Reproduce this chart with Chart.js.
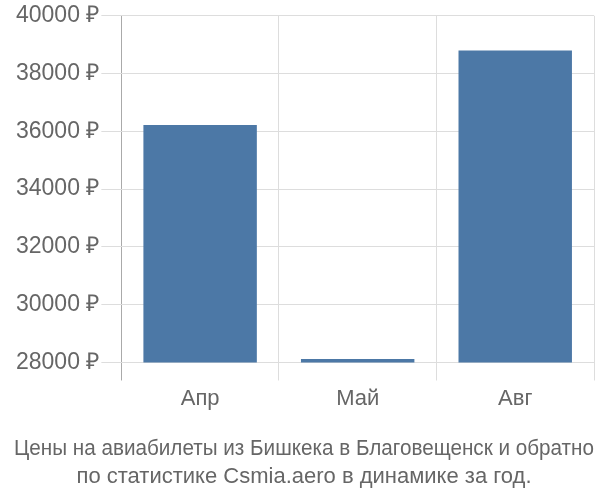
<!DOCTYPE html>
<html>
<head>
<meta charset="utf-8">
<script src="https://cdn.jsdelivr.net/npm/chart.js@4/dist/chart.umd.min.js"></script>
<style>
  html, body { margin: 0; padding: 0; background: #fff; }
  #wrap { width: 600px; height: 500px; }
</style>
</head>
<body>
<div id="wrap"><canvas id="graph" width="600" height="500"></canvas></div>
<script>
'use strict';

let months = ['Апр', 'Май', 'Авг'];
let prices = [36220, 28120, 38800];
let titleLines = [
  'Цены на авиабилеты из Бишкека в Благовещенск и обратно',
  'по статистике Csmia.aero в динамике за год.'
];

const ctx = document.getElementById('graph').getContext('2d');

let graph = new Chart(ctx, { //eslint-disable-line
  type: 'bar',
  data: {
    labels: months,
    datasets: [{
      data: prices,
      backgroundColor: '#4c78a6',
      borderWidth: 0,
      categoryPercentage: 1,
      barPercentage: 0.72
    }]
  },
  options: {
    responsive: false,
    animation: false,
    layout: { padding: { top: 4, right: 6, left: 14, bottom: 0 } },
    plugins: {
      legend: { display: false },
      tooltip: { enabled: false },
      title: {
        display: true,
        position: 'bottom',
        text: titleLines,
        color: '#666',
        font: { family: 'Liberation Sans', size: 22, weight: 'normal', lineHeight: 1.23 },
        padding: { top: 19, bottom: 10 }
      }
    },
    scales: {
      x: {
        grid: {
          offset: true,
          tickLength: 18,
          color: function (c) { return c.index === 0 ? '#aaa' : '#ddd'; },
          lineWidth: 1
        },
        border: { display: true, color: '#ddd' },
        ticks: {
          color: '#666',
          font: { family: 'Liberation Sans', size: 22 },
          padding: 5
        }
      },
      y: {
        min: 28000,
        max: 40000,
        grid: { tickLength: 20, color: '#ddd' },
        border: { display: false },
        ticks: {
          stepSize: 2000,
          color: '#666',
          font: { family: 'Liberation Sans', size: 23 },
          padding: 2,
          callback: function (v) { return v + ' ₽'; }
        }
      }
    }
  }
});
</script>
</body>
</html>
